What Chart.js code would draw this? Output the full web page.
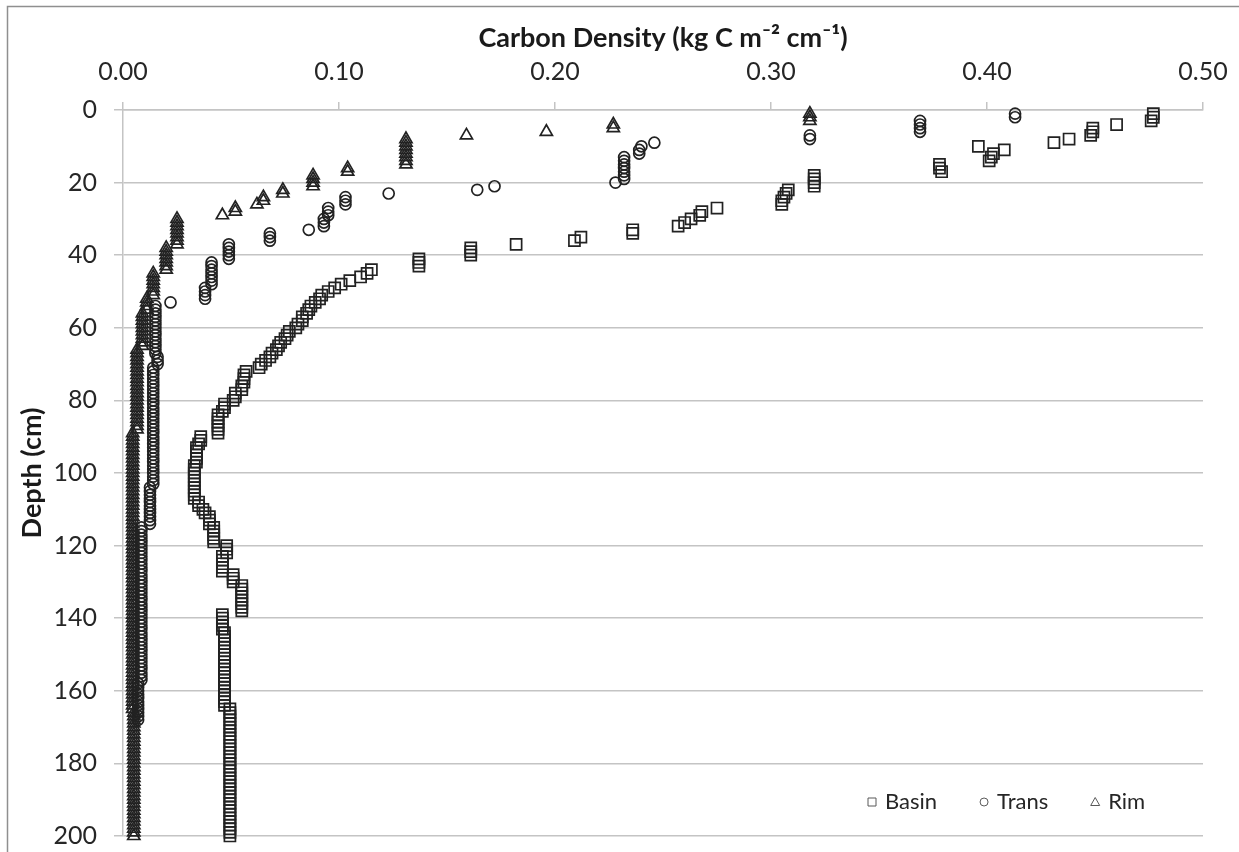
<!DOCTYPE html>
<html>
<head>
<meta charset="utf-8">
<title>Carbon density by depth</title>
<script src="https://cdn.jsdelivr.net/npm/chart.js@4.4.1/dist/chart.umd.min.js"></script>
<style>
  html, body { margin: 0; padding: 0; background: #fff; }
</style>
</head>
<body>
<canvas id="depth-chart" width="1239" height="852"></canvas>
<script>
// sampling depths (cm), one sample per cm
const depthCm = Array.from({ length: 200 }, (_, i) => i + 1);

const seriesNames = ['Basin', 'Trans', 'Rim'];

// carbon density (kg C m-2 cm-1) at each depth
const basin = [
    0.477, 0.477, 0.476, 0.460, 0.449, 0.449, 0.448, 0.438, 0.431, 0.396,
    0.408, 0.403, 0.402, 0.401, 0.378, 0.378, 0.379, 0.320, 0.320, 0.320,
    0.320, 0.308, 0.307, 0.306, 0.305, 0.305, 0.275, 0.268, 0.267, 0.263,
    0.260, 0.257, 0.236, 0.236, 0.212, 0.209, 0.182, 0.161, 0.161, 0.161,
    0.137, 0.137, 0.137, 0.115, 0.113, 0.110, 0.105, 0.101, 0.098, 0.095,
    0.092, 0.091, 0.089, 0.087, 0.086, 0.085, 0.083, 0.083, 0.081, 0.080,
    0.077, 0.076, 0.075, 0.073, 0.072, 0.071, 0.069, 0.068, 0.066, 0.064,
    0.063, 0.057, 0.056, 0.056, 0.056, 0.055, 0.055, 0.052, 0.052, 0.051,
    0.047, 0.047, 0.046, 0.044, 0.044, 0.044, 0.044, 0.044, 0.044, 0.036,
    0.036, 0.035, 0.034, 0.034, 0.034, 0.034, 0.034, 0.033, 0.033, 0.033,
    0.033, 0.033, 0.033, 0.033, 0.033, 0.033, 0.033, 0.035, 0.035, 0.037,
    0.038, 0.040, 0.040, 0.040, 0.042, 0.042, 0.042, 0.042, 0.042, 0.048,
    0.048, 0.048, 0.046, 0.046, 0.046, 0.046, 0.046, 0.051, 0.051, 0.051,
    0.055, 0.055, 0.055, 0.055, 0.055, 0.055, 0.055, 0.055, 0.046, 0.046,
    0.046, 0.046, 0.046, 0.047, 0.047, 0.047, 0.047, 0.047, 0.047, 0.047,
    0.047, 0.047, 0.047, 0.047, 0.047, 0.047, 0.047, 0.047, 0.047, 0.047,
    0.047, 0.047, 0.047, 0.047, 0.0495, 0.0495, 0.0495, 0.0495, 0.0495, 0.0495,
    0.0495, 0.0495, 0.0495, 0.0495, 0.0495, 0.0495, 0.0495, 0.0495, 0.0495, 0.0495,
    0.0495, 0.0495, 0.0495, 0.0495, 0.0495, 0.0495, 0.0495, 0.0495, 0.0495, 0.0495,
    0.0495, 0.0495, 0.0495, 0.0495, 0.0495, 0.0495, 0.0495, 0.0495, 0.0495, 0.0495
];

const trans = [
    0.413, 0.413, 0.369, 0.369, 0.369, 0.369, 0.318, 0.318, 0.246, 0.240,
    0.239, 0.239, 0.232, 0.232, 0.232, 0.232, 0.232, 0.232, 0.232, 0.228,
    0.172, 0.164, 0.123, 0.103, 0.103, 0.103, 0.095, 0.095, 0.095, 0.093,
    0.093, 0.093, 0.086, 0.068, 0.068, 0.068, 0.049, 0.049, 0.049, 0.049,
    0.049, 0.041, 0.041, 0.041, 0.041, 0.041, 0.041, 0.041, 0.038, 0.038,
    0.038, 0.038, 0.022, 0.015, 0.015, 0.015, 0.015, 0.015, 0.015, 0.015,
    0.015, 0.015, 0.015, 0.015, 0.015, 0.015, 0.015, 0.016, 0.016, 0.016,
    0.014, 0.014, 0.014, 0.014, 0.014, 0.014, 0.014, 0.014, 0.014, 0.014,
    0.014, 0.014, 0.014, 0.014, 0.014, 0.014, 0.014, 0.014, 0.014, 0.014,
    0.014, 0.014, 0.014, 0.014, 0.014, 0.014, 0.014, 0.014, 0.014, 0.014,
    0.014, 0.014, 0.014, 0.0125, 0.0125, 0.0125, 0.0125, 0.0125, 0.0125, 0.0125,
    0.0125, 0.0125, 0.0125, 0.0125, 0.0085, 0.0085, 0.0085, 0.0085, 0.0085, 0.0085,
    0.0085, 0.0085, 0.0085, 0.0085, 0.0085, 0.0085, 0.0085, 0.0085, 0.0085, 0.0085,
    0.0085, 0.0085, 0.0085, 0.0085, 0.0085, 0.0085, 0.0085, 0.0085, 0.0085, 0.0085,
    0.0085, 0.0085, 0.0085, 0.0085, 0.0085, 0.0085, 0.0085, 0.0085, 0.0085, 0.0085,
    0.0085, 0.0085, 0.0085, 0.0085, 0.0085, 0.0085, 0.0085, 0.007, 0.007, 0.007,
    0.007, 0.007, 0.007, 0.007, 0.007, 0.007, 0.007, 0.007
];

const rim = [
    0.318, 0.318, 0.318, 0.227, 0.227, 0.196, 0.159, 0.131, 0.131, 0.131,
    0.131, 0.131, 0.131, 0.131, 0.131, 0.104, 0.104, 0.088, 0.088, 0.088,
    0.088, 0.074, 0.074, 0.065, 0.065, 0.062, 0.052, 0.052, 0.046, 0.025,
    0.025, 0.025, 0.025, 0.025, 0.025, 0.025, 0.025, 0.020, 0.020, 0.020,
    0.020, 0.020, 0.020, 0.020, 0.014, 0.014, 0.014, 0.014, 0.014, 0.014,
    0.014, 0.011, 0.011, 0.011, 0.011, 0.009, 0.009, 0.009, 0.009, 0.009,
    0.009, 0.009, 0.009, 0.009, 0.009, 0.0065, 0.0065, 0.0065, 0.0065, 0.0065,
    0.0065, 0.0065, 0.0065, 0.0065, 0.0065, 0.0065, 0.0065, 0.0065, 0.0065, 0.0065,
    0.0065, 0.0065, 0.0065, 0.0065, 0.0065, 0.0065, 0.0065, 0.0065, 0.0045, 0.0045,
    0.0045, 0.0045, 0.0045, 0.0045, 0.0045, 0.0045, 0.0045, 0.0045, 0.0045, 0.0045,
    0.0045, 0.0045, 0.0045, 0.0045, 0.0045, 0.0045, 0.0045, 0.0045, 0.0045, 0.0045,
    0.0045, 0.0045, 0.0045, 0.0045, 0.0045, 0.0045, 0.0045, 0.0045, 0.0045, 0.0045,
    0.0045, 0.0045, 0.0045, 0.0045, 0.0045, 0.0045, 0.0045, 0.0045, 0.0045, 0.0045,
    0.0045, 0.0045, 0.0045, 0.0045, 0.0045, 0.0045, 0.0045, 0.0045, 0.0045, 0.0045,
    0.0045, 0.0045, 0.0045, 0.0045, 0.0045, 0.0045, 0.0045, 0.0045, 0.0045, 0.0045,
    0.0045, 0.0045, 0.0045, 0.0045, 0.0045, 0.0045, 0.0045, 0.0045, 0.0045, 0.0045,
    0.0045, 0.0045, 0.0045, 0.0045, 0.0045, 0.005, 0.005, 0.005, 0.005, 0.005,
    0.005, 0.005, 0.005, 0.005, 0.005, 0.005, 0.005, 0.005, 0.005, 0.005,
    0.005, 0.005, 0.005, 0.005, 0.005, 0.005, 0.005, 0.005, 0.005, 0.005,
    0.005, 0.005, 0.005, 0.005, 0.005, 0.005, 0.005, 0.005, 0.005, 0.005
];

const xTickValues = [0, 0.1, 0.2, 0.3, 0.4, 0.5];
const yTickValues = [0, 20, 40, 60, 80, 100, 120, 140, 160, 180, 200];

const xTitle = 'Carbon Density (kg C m\u207B\u00B2 cm\u207B\u00B9)';
const yTitle = 'Depth (cm)';

const gridColor = '#c4c4c4';
const markColor = '#222222';

Chart.defaults.font.family = 'Lato, "Open Sans", sans-serif';
Chart.defaults.color = '#262626';

function toPoints(values) {
    return values.map((v, i) => ({ x: v, y: depthCm[i] }));
}

// thin frame on the top and left like the original figure
const framePlugin = {
    id: 'frame',
    beforeDraw(chart) {
        const ctx = chart.ctx;
        ctx.save();
        ctx.strokeStyle = '#8f8f8f';
        ctx.lineWidth = 1.5;
        ctx.beginPath();
        ctx.moveTo(7.5, chart.height);
        ctx.lineTo(7.5, 6.5);
        ctx.lineTo(chart.width, 6.5);
        ctx.stroke();
        ctx.restore();
    }
};

// legend sitting inside the plot, bottom right
const innerLegend = {
    id: 'innerLegend',
    afterDraw(chart) {
        const ctx = chart.ctx;
        const area = chart.chartArea;
        let cx = area.right - 331; // centre of the first marker
        const y = area.bottom - 34;
        ctx.save();
        ctx.font = '22px Lato, "Open Sans", sans-serif';
        ctx.textBaseline = 'middle';
        ctx.fillStyle = '#262626';
        chart.data.datasets.forEach(ds => {
            ctx.strokeStyle = '#595959';
            ctx.lineWidth = 1;
            ctx.beginPath();
            if (ds.pointStyle === 'rect') {
                ctx.rect(cx - 4, y - 4, 8, 8);
            } else if (ds.pointStyle === 'circle') {
                ctx.arc(cx, y, 4, 0, Math.PI * 2);
            } else {
                ctx.moveTo(cx, y - 4.5);
                ctx.lineTo(cx + 4.5, y + 3.5);
                ctx.lineTo(cx - 4.5, y + 3.5);
                ctx.closePath();
            }
            ctx.stroke();
            ctx.fillText(ds.label, cx + 13, y);
            cx += 13 + ctx.measureText(ds.label).width + 47;
        });
        ctx.restore();
    }
};

const ctx = document.getElementById('depth-chart');

new Chart(ctx, {
    type: 'scatter',
    data: {
        datasets: [
            {
                label: seriesNames[0],
                data: toPoints(basin),
                pointStyle: 'rect',
                pointRadius: 7.8,
                borderWidth: 1.7,
                borderColor: markColor,
                backgroundColor: 'rgba(0,0,0,0)',
                clip: false,
                order: 3
            },
            {
                label: seriesNames[1],
                data: toPoints(trans),
                pointStyle: 'circle',
                pointRadius: 5.5,
                borderWidth: 1.7,
                borderColor: markColor,
                backgroundColor: 'rgba(0,0,0,0)',
                clip: false,
                order: 2
            },
            {
                label: seriesNames[2],
                data: toPoints(rim),
                pointStyle: 'triangle',
                pointRadius: 7,
                borderWidth: 1.7,
                borderColor: markColor,
                backgroundColor: 'rgba(0,0,0,0)',
                clip: false,
                order: 1
            }
        ]
    },
    options: {
        responsive: false,
        animation: false,
        layout: {
            padding: { top: 10, left: 0, right: 36, bottom: 16 }
        },
        plugins: {
            legend: { display: false },
            tooltip: { enabled: false }
        },
        scales: {
            x: {
                type: 'linear',
                position: 'top',
                min: 0,
                max: 0.5,
                afterBuildTicks: (scale) => {
                    scale.ticks = xTickValues.map(v => ({ value: v }));
                },
                afterFit: (scale) => {
                    scale.height = 100;
                    scale.paddingLeft = 0;
                    scale.paddingRight = 0;
                },
                ticks: {
                    padding: 15,
                    font: { size: 25 },
                    callback: (v) => Number(v).toFixed(2)
                },
                grid: {
                    drawOnChartArea: false,
                    drawTicks: true,
                    tickLength: 8,
                    color: gridColor,
                    lineWidth: 1.5
                },
                border: { display: true, color: gridColor, width: 1.5 },
                title: {
                    display: true,
                    text: xTitle,
                    color: '#1a1a1a',
                    font: { size: 27, weight: 'bold' },
                    padding: { top: 12, bottom: 0 }
                }
            },
            y: {
                type: 'linear',
                reverse: true,
                min: 0,
                max: 200,
                afterBuildTicks: (scale) => {
                    scale.ticks = yTickValues.map(v => ({ value: v }));
                },
                afterFit: (scale) => {
                    scale.width = 123;
                    scale.paddingTop = 0;
                    scale.paddingBottom = 0;
                },
                ticks: {
                    padding: 17,
                    font: { size: 25 }
                },
                grid: {
                    drawTicks: true,
                    tickLength: 9,
                    color: gridColor,
                    lineWidth: 1.5
                },
                border: { display: true, color: gridColor, width: 1.5 },
                title: {
                    display: true,
                    text: yTitle,
                    color: '#1a1a1a',
                    font: { size: 27, weight: 'bold' },
                    padding: { top: 16, bottom: 0 }
                }
            }
        }
    },
    plugins: [framePlugin, innerLegend]
});
</script>
</body>
</html>
